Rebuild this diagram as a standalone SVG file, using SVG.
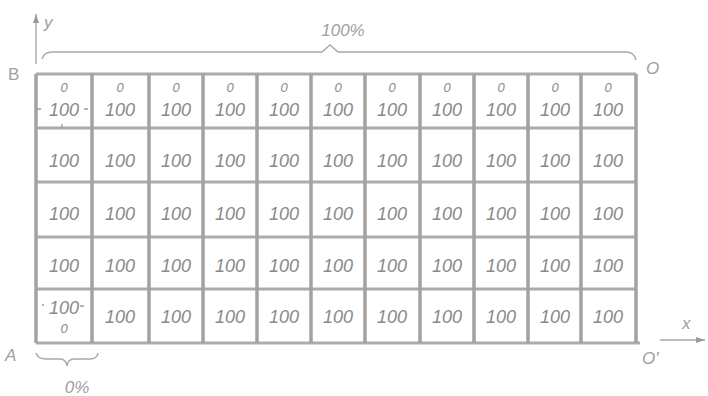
<svg xmlns="http://www.w3.org/2000/svg" width="708" height="396" viewBox="0 0 708 396">
<style>
.t{font-family:"Liberation Sans",Arial,sans-serif;font-style:italic;fill:#8a8a8a;font-size:18px;text-anchor:middle}
.s{font-size:13px}
.lbl{font-family:"Liberation Sans",Arial,sans-serif;fill:#a0a0a0;font-size:17px}
.v{stroke:#a2a2a2;stroke-width:3.5;fill:none}
.h{stroke:#ababab;stroke-width:3;fill:none}
.thin{stroke:#a8a8a8;stroke-width:1.4;fill:none}
.tick{stroke:#9a9a9a;stroke-width:1.3}
</style>
<defs>
<marker id="ar" markerWidth="10" markerHeight="8" refX="9" refY="4" orient="auto" markerUnits="userSpaceOnUse">
<path d="M0,1 L9,4 L0,7 Z" fill="#9a9a9a"/>
</marker>
</defs>
<rect width="708" height="396" fill="#ffffff"/>

<g id="grid">
<path class="h" d="M36,74H636M36,128H636M36,182H636M36,237H636M36,289H636M36,343H640"/>
<path class="v" d="M36,74V343M92,74V343M149,74V343M203,74V343M257,74V343M311,74V343M365,74V343M420,74V343M474,74V343M528,74V343M581,74V343M636,74V343"/>
</g>

<g id="connectors">
<path class="thin" d="M36,64V14" marker-end="url(#ar)"/>
<path class="thin" d="M660,340H705" marker-end="url(#ar)"/>
<path class="thin" d="M42,59Q44,52 52,52H322L330,45L338,52H626Q634,52 636,60"/>
<path class="thin" d="M36,353Q38,359 46,359H60Q66,359 67,366Q68,359 74,359H90Q97,359 98,353"/>
</g>

<g id="labels">
<text class="lbl" x="44" y="28" font-style="italic">y</text>
<text class="lbl" x="8" y="80">B</text>
<text class="lbl" x="646" y="74" font-style="italic">O</text>
<text class="lbl" x="5" y="361" font-style="italic">A</text>
<text class="lbl" x="642" y="364" font-style="italic">O'</text>
<text class="lbl" x="682" y="329" font-style="italic">x</text>
<text class="lbl" x="343" y="36" font-style="italic" text-anchor="middle" font-size="15">100%</text>
<text class="lbl" x="77" y="393" font-style="italic" text-anchor="middle" font-size="17">0%</text>
<path class="tick" d="M37,109H41M84,109H88M62,124V128M42,305H44M80,306H84"/>
</g>

<g id="r1c1"><text class="t s" x="64" y="92">0</text><text class="t" x="64" y="116">100</text></g>
<g id="r1c2"><text class="t s" x="120" y="92">0</text><text class="t" x="120" y="116">100</text></g>
<g id="r1c3"><text class="t s" x="176" y="92">0</text><text class="t" x="176" y="116">100</text></g>
<g id="r1c4"><text class="t s" x="230" y="92">0</text><text class="t" x="230" y="116">100</text></g>
<g id="r1c5"><text class="t s" x="284" y="92">0</text><text class="t" x="284" y="116">100</text></g>
<g id="r1c6"><text class="t s" x="338" y="92">0</text><text class="t" x="338" y="116">100</text></g>
<g id="r1c7"><text class="t s" x="392" y="92">0</text><text class="t" x="392" y="116">100</text></g>
<g id="r1c8"><text class="t s" x="447" y="92">0</text><text class="t" x="447" y="116">100</text></g>
<g id="r1c9"><text class="t s" x="501" y="92">0</text><text class="t" x="501" y="116">100</text></g>
<g id="r1c10"><text class="t s" x="555" y="92">0</text><text class="t" x="555" y="116">100</text></g>
<g id="r1c11"><text class="t s" x="608" y="92">0</text><text class="t" x="608" y="116">100</text></g>

<g id="r2c1"><text class="t" x="64" y="167">100</text></g>
<g id="r2c2"><text class="t" x="120" y="167">100</text></g>
<g id="r2c3"><text class="t" x="176" y="167">100</text></g>
<g id="r2c4"><text class="t" x="230" y="167">100</text></g>
<g id="r2c5"><text class="t" x="284" y="167">100</text></g>
<g id="r2c6"><text class="t" x="338" y="167">100</text></g>
<g id="r2c7"><text class="t" x="392" y="167">100</text></g>
<g id="r2c8"><text class="t" x="447" y="167">100</text></g>
<g id="r2c9"><text class="t" x="501" y="167">100</text></g>
<g id="r2c10"><text class="t" x="555" y="167">100</text></g>
<g id="r2c11"><text class="t" x="608" y="167">100</text></g>

<g id="r3c1"><text class="t" x="64" y="220">100</text></g>
<g id="r3c2"><text class="t" x="120" y="220">100</text></g>
<g id="r3c3"><text class="t" x="176" y="220">100</text></g>
<g id="r3c4"><text class="t" x="230" y="220">100</text></g>
<g id="r3c5"><text class="t" x="284" y="220">100</text></g>
<g id="r3c6"><text class="t" x="338" y="220">100</text></g>
<g id="r3c7"><text class="t" x="392" y="220">100</text></g>
<g id="r3c8"><text class="t" x="447" y="220">100</text></g>
<g id="r3c9"><text class="t" x="501" y="220">100</text></g>
<g id="r3c10"><text class="t" x="555" y="220">100</text></g>
<g id="r3c11"><text class="t" x="608" y="220">100</text></g>

<g id="r4c1"><text class="t" x="64" y="272">100</text></g>
<g id="r4c2"><text class="t" x="120" y="272">100</text></g>
<g id="r4c3"><text class="t" x="176" y="272">100</text></g>
<g id="r4c4"><text class="t" x="230" y="272">100</text></g>
<g id="r4c5"><text class="t" x="284" y="272">100</text></g>
<g id="r4c6"><text class="t" x="338" y="272">100</text></g>
<g id="r4c7"><text class="t" x="392" y="272">100</text></g>
<g id="r4c8"><text class="t" x="447" y="272">100</text></g>
<g id="r4c9"><text class="t" x="501" y="272">100</text></g>
<g id="r4c10"><text class="t" x="555" y="272">100</text></g>
<g id="r4c11"><text class="t" x="608" y="272">100</text></g>

<g id="r5c1"><text class="t" x="64" y="314">100</text><text class="t s" x="64" y="333" font-size="12px">0</text></g>
<g id="r5c2"><text class="t" x="120" y="323">100</text></g>
<g id="r5c3"><text class="t" x="176" y="323">100</text></g>
<g id="r5c4"><text class="t" x="230" y="323">100</text></g>
<g id="r5c5"><text class="t" x="284" y="323">100</text></g>
<g id="r5c6"><text class="t" x="338" y="323">100</text></g>
<g id="r5c7"><text class="t" x="392" y="323">100</text></g>
<g id="r5c8"><text class="t" x="447" y="323">100</text></g>
<g id="r5c9"><text class="t" x="501" y="323">100</text></g>
<g id="r5c10"><text class="t" x="555" y="323">100</text></g>
<g id="r5c11"><text class="t" x="608" y="323">100</text></g>
</svg>
